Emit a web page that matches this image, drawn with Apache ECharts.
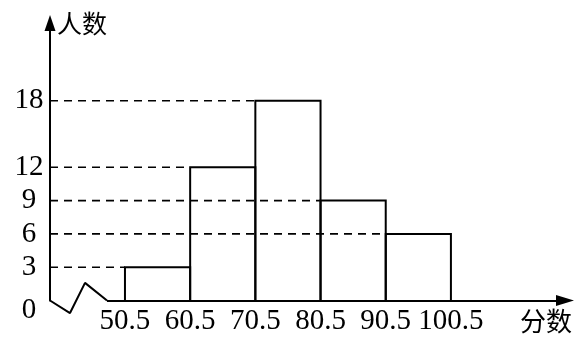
<!DOCTYPE html>
<html><head><meta charset="utf-8">
<style>html,body{margin:0;padding:0;background:#fff}#c{width:579px;height:345px}</style>
<script src="https://cdn.jsdelivr.net/npm/echarts@6/dist/echarts.min.js"></script>
</head><body><div id="c"></div>
<script>
const binStarts = [50.5, 60.5, 70.5, 80.5, 90.5];
const binEnds = [60.5, 70.5, 80.5, 90.5, 100.5];
const counts = [3, 12, 18, 9, 6];
const xTickLabels = [50.5, 60.5, 70.5, 80.5, 90.5, 100.5];
const yTickLabels = [0, 3, 6, 9, 12, 18];
const axisBreak = [[39, 0], [42.07, -1.13], [44.37, 1.59], [47.74, 0]];
const xMin = 39, xMax = 118, yMin = 0, yMax = 25;

const SERIF = 'Liberation Serif';
const CJK = 'Noto Sans CJK SC';
const chart = echarts.init(document.getElementById('c'), null, {renderer: 'canvas'});
const histData = binStarts.map((s, i) => [s, binEnds[i], counts[i]]);
const breakEnd = axisBreak[axisBreak.length - 1];

chart.setOption({
  animation: false,
  backgroundColor: '#fff',
  grid: {left: 50, right: 14, top: 23, bottom: 44.5},
  xAxis: {
    type: 'value', min: xMin, max: xMax,
    axisLine: {show: false}, axisTick: {show: false}, splitLine: {show: false},
    axisLabel: {
      customValues: xTickLabels, formatter: v => v.toFixed(1),
      fontSize: 29, fontFamily: SERIF, color: '#000', margin: 6
    },
    name: '分数', nameLocation: 'end', nameGap: 7,
    nameTextStyle: {fontFamily: CJK, fontSize: 26, color: '#000', align: 'right', verticalAlign: 'top', padding: [8, 0, 0, 0]}
  },
  yAxis: {
    type: 'value', min: yMin, max: yMax,
    axisLine: {show: true, symbol: ['none', 'triangle'], symbolSize: [11, 16], lineStyle: {color: '#000', width: 2}},
    axisTick: {show: false}, splitLine: {show: false},
    axisLabel: {
      customValues: yTickLabels, margin: 21, align: 'center',
      fontSize: 29, fontFamily: SERIF, color: '#000',
      formatter: v => v === 0 ? '{d|0}' : String(v),
      rich: {d: {padding: [20, 0, 0, 0], fontSize: 29, fontFamily: SERIF, color: '#000'}}
    },
    name: '人数', nameLocation: 'end', nameGap: 0,
    nameTextStyle: {fontFamily: CJK, fontSize: 25, color: '#000', align: 'left', verticalAlign: 'middle', padding: [10, 0, 0, 7]}
  },
  series: [
    {
      type: 'custom', data: histData, clip: false,
      encode: {x: [0, 1], y: 2},
      renderItem: function (params, api) {
        const x0 = api.value(0), x1 = api.value(1), v = api.value(2);
        const p0 = api.coord([x0, 0]);
        const p1 = api.coord([x1, v]);
        const pa = api.coord([xMin, v]);
        return {type: 'group', children: [
          {type: 'line', shape: {x1: pa[0], y1: pa[1], x2: p0[0], y2: p1[1]},
           style: {stroke: '#000', lineWidth: 1.6, lineDash: [8, 6]}},
          {type: 'polyline', shape: {points: [[p0[0], p0[1]], [p0[0], p1[1]], [p1[0], p1[1]], [p1[0], p0[1]]]},
           style: {stroke: '#000', fill: null, lineWidth: 2}}
        ]};
      }
    },
    {
      type: 'line', data: axisBreak, symbol: 'none', clip: false,
      lineStyle: {color: '#000', width: 2},
      markLine: {
        silent: true, symbol: ['none', 'triangle'], symbolSize: [11, 18],
        lineStyle: {color: '#000', width: 2, type: 'solid'},
        label: {show: false},
        data: [[{coord: [breakEnd[0], 0]}, {coord: [xMax, 0]}]]
      }
    }
  ]
});
</script></body></html>
